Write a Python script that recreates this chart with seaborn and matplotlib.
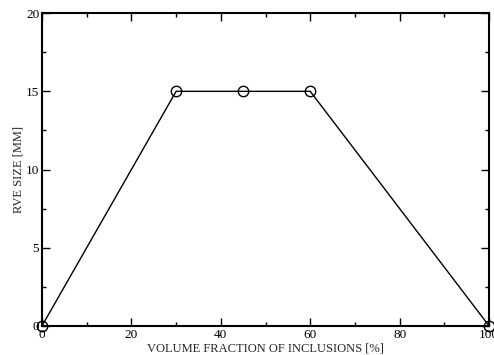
import matplotlib
matplotlib.use("Agg")
import matplotlib.pyplot as plt
import seaborn as sns
import pandas as pd
from matplotlib.ticker import MultipleLocator

volume_fraction = [0, 30, 45, 60, 100]
rve_size = [0, 15, 15, 15, 0]

sns.set_style("ticks")
plt.rcParams['font.family'] = ['Liberation Serif', 'DejaVu Serif']

df = pd.DataFrame({"vf": volume_fraction, "rve": rve_size})

fig = plt.figure(figsize=(4.94, 3.55), dpi=100)
ax = fig.add_axes([0.085, 0.082, 0.905, 0.881])
sns.lineplot(data=df, x="vf", y="rve", ax=ax, color="black", linewidth=1.0,
             marker="o", markersize=7.5, markerfacecolor="none",
             markeredgecolor="black", markeredgewidth=1.0, clip_on=False)

ax.set_xlim(0, 100)
ax.set_ylim(0, 20)
ax.xaxis.set_major_locator(MultipleLocator(20))
ax.xaxis.set_minor_locator(MultipleLocator(10))
ax.yaxis.set_major_locator(MultipleLocator(5))
ax.yaxis.set_minor_locator(MultipleLocator(2.5))
ax.tick_params(which="both", direction="in", top=True, right=True, colors="black",
               labelsize=9.5, width=1.0, pad=2)
ax.tick_params(which="major", length=6)
ax.tick_params(which="minor", length=3)
for s in ax.spines.values():
    s.set_linewidth(1.5)
    s.set_color("black")
    s.set_visible(True)
ax.set_xlabel("VOLUME FRACTION OF INCLUSIONS [%]", fontsize=9, labelpad=1.5)
ax.set_ylabel("RVE SIZE [MM]", fontsize=9, labelpad=1)

fig.savefig("out.png", dpi=100)
